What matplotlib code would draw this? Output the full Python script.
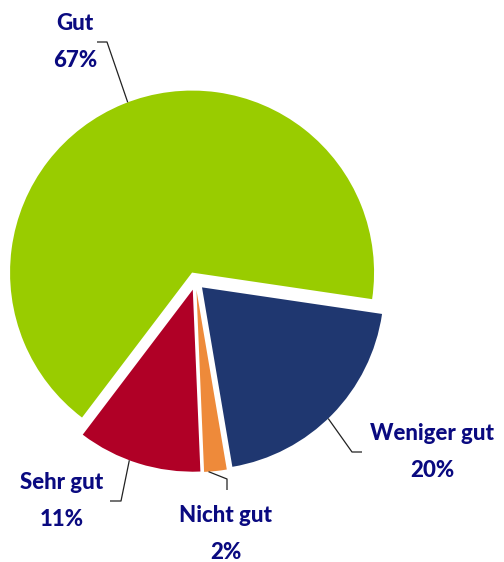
import numpy as np
import matplotlib
matplotlib.use("Agg")
import matplotlib.pyplot as plt

# Daten
kategorien = ["Gut", "Sehr gut", "Nicht gut", "Weniger gut"]
werte = [67, 11, 2, 20]
farben = ["#99CC00", "#B00026", "#EE8A3A", "#1F3770"]

W, H = 504, 562
R_PX = 182.0          # Radius in Pixel
CX, CY = 195.5, 281.0  # Mittelpunkt in Pixel (Bild-Koordinaten)


def px(x, y):
    # Pixel (Bild) -> Datenkoordinaten
    return (x - CX) / R_PX, (CY - y) / R_PX


fig = plt.figure(figsize=(W / 100, H / 100), dpi=100)
ax = fig.add_axes([0, 0, 1, 1])

wedges, _ = ax.pie(werte, colors=farben, startangle=-8.4, counterclock=True,
                   explode=[0.05] * 4, radius=1.0,
                   wedgeprops=dict(linewidth=0))

ax.set_xlim(-CX / R_PX, (W - CX) / R_PX)
ax.set_ylim(-(H - CY) / R_PX, CY / R_PX)
ax.axis("off")

# Beschriftungen: (Winkel am Rand, Knick, Ende, Textmitte)
beschriftung = {
    "Gut": (110.7, (107, 42), (97, 42), (75, 42)),
    "Sehr gut": (249.6, (121, 501), (110, 501), (62, 501)),
    "Nicht gut": (273.8, (227, 479), (227, 490), (226, 534)),
    "Weniger gut": (313.9, (352, 452), (362, 452), (432, 452)),
}

for w, name, wert in zip(wedges, kategorien, werte):
    winkel, knick, ende, textpos = beschriftung[name]
    cx, cy = w.center
    t = np.deg2rad(winkel)
    p0 = (cx + w.r * np.cos(t), cy + w.r * np.sin(t))
    p1 = px(*knick)
    p2 = px(*ende)
    ax.plot([p0[0], p1[0], p2[0]], [p0[1], p1[1], p2[1]], color="#222222", lw=0.9,
            solid_capstyle="butt")
    tx, ty = px(*textpos)
    ax.text(tx, ty, f"{name}\n{wert}%", ha="center", va="center", multialignment="center",
            fontsize=16, fontweight="black", family=["Lato", "DejaVu Sans"],
            color="#0A0A80", linespacing=1.9)

fig.savefig("out.png", dpi=100)
